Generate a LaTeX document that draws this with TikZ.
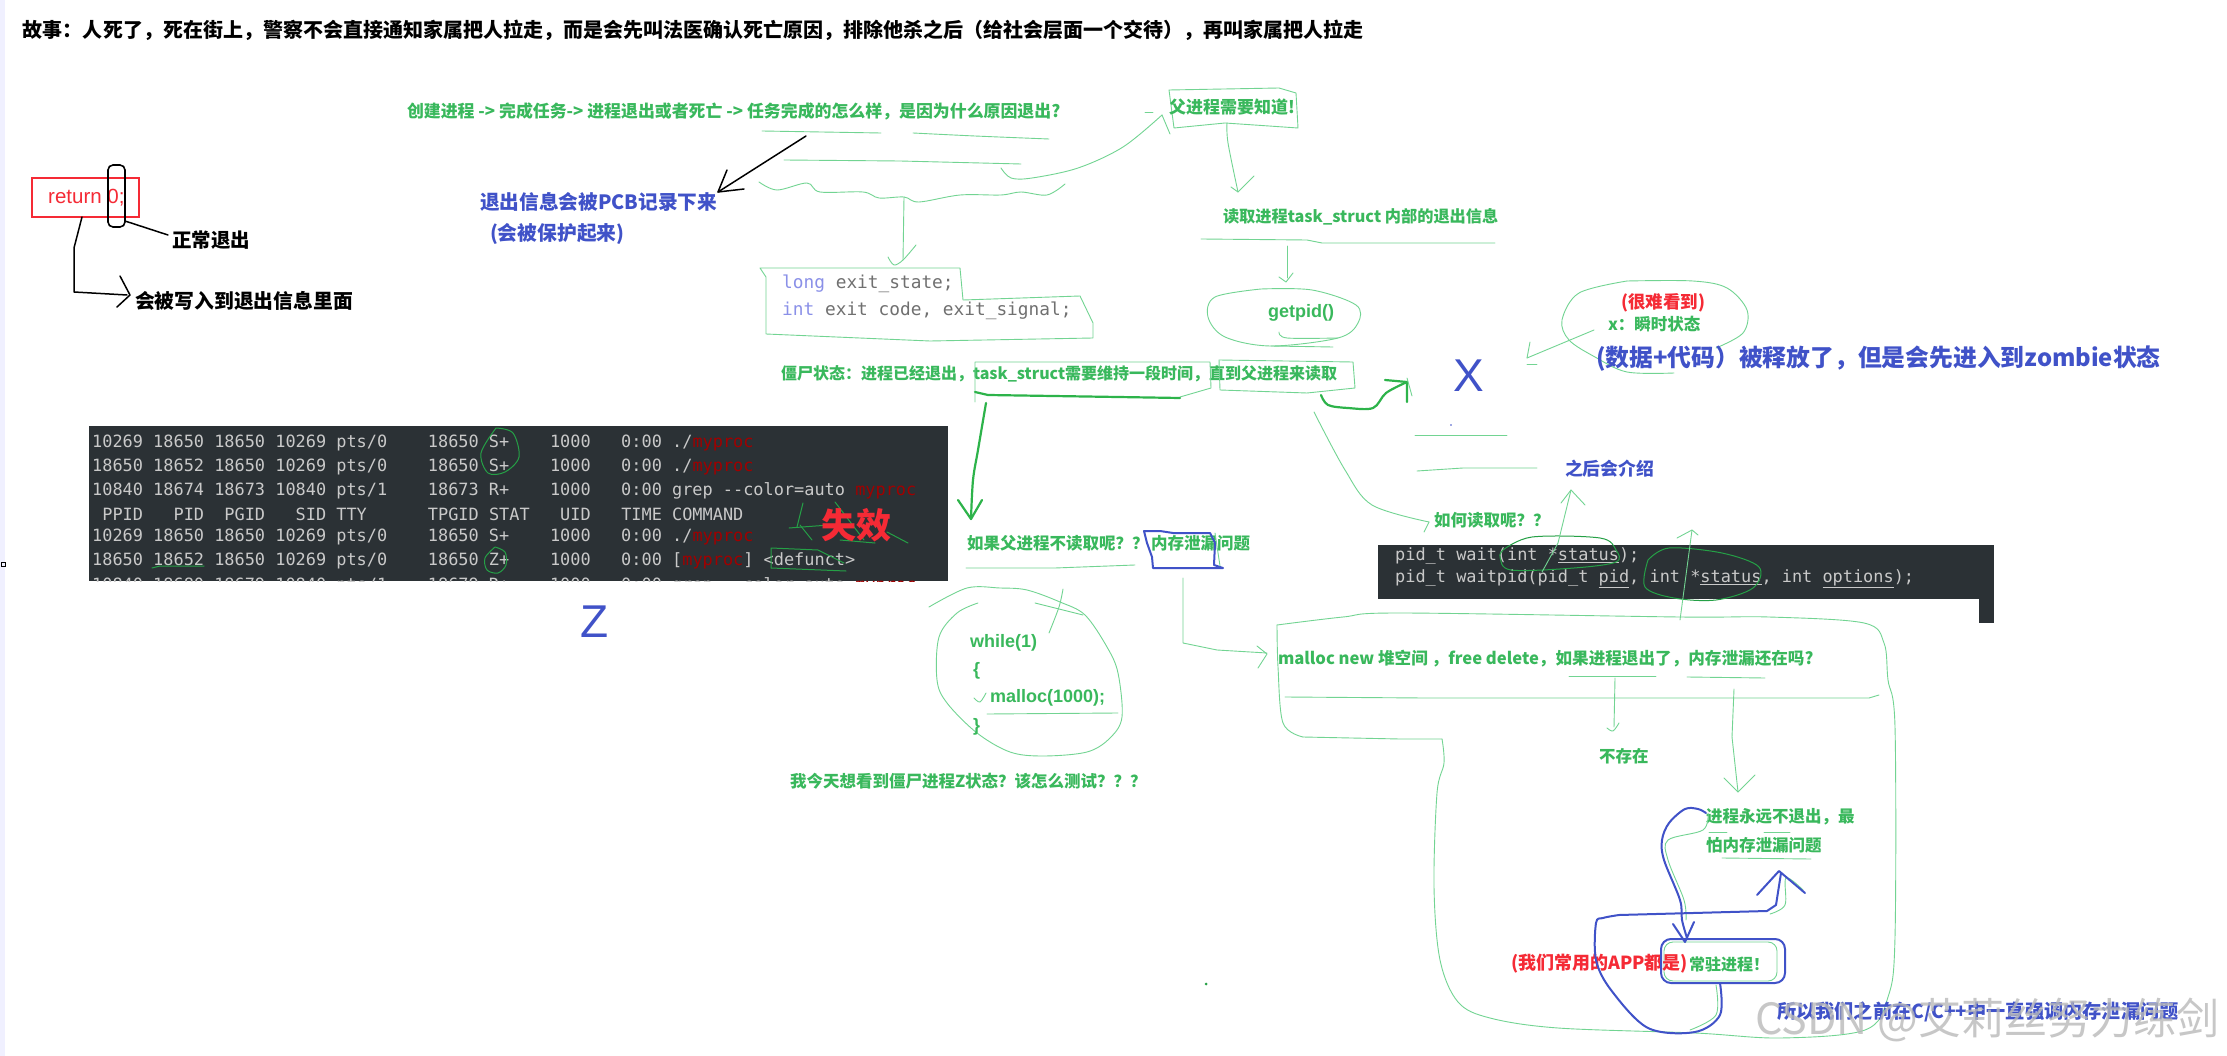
\documentclass[tikz,border=0pt]{standalone}
\usepackage{fontspec}
\setmainfont{Noto Sans CJK SC}
\newfontfamily\latinf{Liberation Sans}
\newfontfamily\termf{DejaVu Sans Mono}
\usetikzlibrary{calc}
\frenchspacing
\definecolor{gtext}{HTML}{39B85C}
\definecolor{gthin}{HTML}{72D492}
\definecolor{gdark}{HTML}{25A046}
\definecolor{gbold}{HTML}{2DB34A}
\definecolor{btext}{HTML}{4052C8}
\definecolor{redt}{HTML}{F52A35}
\definecolor{termbg}{HTML}{2B3135}
\definecolor{termfg}{HTML}{C9C9C9}
\definecolor{mpred}{HTML}{A00000}
\definecolor{kwblue}{HTML}{8A90E8}
\definecolor{codegr}{HTML}{707070}
\newcommand{\szf}[1]{\fontsize{#1}{#1}\selectfont}
\newcommand{\mpr}{\textcolor{mpred}{myproc}}
\tikzset{
  lab/.style={anchor=west,inner sep=0pt,outer sep=0pt,font=\bfseries},
  gt/.style={lab,text=gtext},
  bt/.style={lab,text=btext},
  rt/.style={lab,text=redt},
  kt/.style={lab,text=black},
  term/.style={anchor=west,inner sep=0pt,text=termfg,font=\termf\szf{16.9}},
  gl/.style={draw=gthin,line width=0.9pt,line cap=round,line join=round},
  gd/.style={draw=gdark,line width=1pt,line cap=round,line join=round},
  gk/.style={draw=gbold,line width=2.2pt,line cap=round,line join=round},
  bl/.style={draw=btext,line width=2pt,line cap=round,line join=round},
  kl/.style={draw=black,line width=1.5pt,line cap=round,line join=round},
  sm/.style={smooth,tension=0.55}
}
\begin{document}
\begin{tikzpicture}[x=1pt,y=-1pt]
\useasboundingbox (0,0) rectangle (2227,1056);
\fill[white] (0,0) rectangle (2227,1056);
\fill[blue!6] (0,0) rectangle (5,1056);
\draw[black,line width=0.5pt] (1,562) rectangle (5,566);

% header
\node[kt,font=\bfseries\szf{20}] (header) at (23,30) {故事：人死了，死在街上，警察不会直接通知家属把人拉走，而是会先叫法医确认死亡原因，排除他杀之后（给社会层面一个交待），再叫家属把人拉走};

% return 0
\draw[redt,line width=1.6pt] (32,178) rectangle (139,217);
\node[anchor=west,inner sep=0pt,text=redt,font=\latinf\szf{20.5}] (ret) at (48,198) {return 0;};
\draw[black,line width=1.6pt,rounded corners=5pt] (108,165) rectangle (125,227);
\node[kt,font=\bfseries\szf{19.5}] (normal) at (172,240) {正常退出};
\node[kt,font=\bfseries\szf{19.8}] (written) at (135,301) {会被写入到退出信息里面};
\draw[kl] (125,221) -- (168,235);
\draw[kl] (82,217) -- (74,248) -- (74,292) -- (127,295);
\draw[kl] (120,276) -- (130,295) -- (117,307);

% blue note
\node[bt,font=\bfseries\szf{19.7}] (pcb) at (480,202) {退出信息会被PCB记录下来};
\node[bt,font=\bfseries\szf{19.8}] (prot) at (490,234) {(会被保护起来)};
\draw[kl] (806,136) -- (718,192);
\draw[kl] (727,170) -- (718,192) -- (744,189);

% create line
\node[gt,font=\bfseries\szf{16.9}] (create) at (407,111) {创建进程 -> 完成任务-> 进程退出或者死亡 -> 任务完成的怎么样，是因为什么原因退出?};
\draw[gl] (762,131) -- (881,133);
\draw[gl,sm] plot coordinates {(913,133)(975,136)(1049,139)};
\draw[gl] (784,160) -- (900,161) -- (1021,164);
\draw[gl,sm] plot coordinates {(1001,168)(1011,178)(1032,178)(1078,168)(1123,147)(1162,115)};
\draw[gl] (1145,112) -- (1153,112);
\draw[gl] (1162,115) -- (1170,134);
\draw[gl] (1169,90) -- (1279,88) -- (1296,93) -- (1298,128) -- (1269,126) -- (1225,123) -- (1174,128) -- cycle;
\node[gt,font=\bfseries\szf{17}] (fu) at (1169,107) {父进程需要知道!};

% wave + code box
\draw[gl,sm] plot coordinates {(759,182)(777,190)(807,183)(820,192)(863,192)(879,198)(904,197)(919,202)(960,195)(1001,195)(1021,192)(1047,195)(1065,184)};
\draw[gl] (904,197) -- (903,260);
\draw[gl,sm] plot coordinates {(888,257)(894,265)(903,260)(916,245)};
\draw[gl] (760,268) -- (960,268) -- (963,300) -- (1080,296) -- (1093,323) -- (1093,338) -- (930,341) -- (766,334) -- (766,277) -- (760,268);
\node[anchor=west,inner sep=0pt,font=\termf\szf{17.8},text=codegr] (c1) at (782,284) {\textcolor{kwblue}{long} exit\_state;};
\node[anchor=west,inner sep=0pt,font=\termf\szf{17.8},text=codegr] (c2) at (782,311) {\textcolor{kwblue}{int} exit code, exit\_signal;};

% parent reads
\draw[gl,sm] plot coordinates {(1227,123)(1228,143)(1238,192)};
\draw[gl] (1231,187) -- (1238,192) -- (1254,176);
\node[gt,font=\bfseries\szf{16.2}] (readt) at (1223,217) {读取进程task\_struct 内部的退出信息};
\draw[gl] (1201,239) -- (1307,240) -- (1322,243) -- (1495,243);
\draw[gl] (1287,246) -- (1287,278);
\draw[gl] (1279,277) -- (1286,282) -- (1293,273);
\draw[gl,sm] plot coordinates {(1261,289)(1312,290)(1356,305)(1358,323)(1338,338)(1271,346)(1225,337)(1208,317)(1215,297)(1261,289)};
\draw[gl] (1271,346) -- (1333,347);
\draw[gl,sm] plot coordinates {(1279,332)(1287,338)(1338,338)};
\node[gt,font=\latinf\bfseries\szf{18}] (getp) at (1268,313) {getpid()};

% zombie line
\node[gt,font=\bfseries\szf{16}] (zomb) at (781,374) {僵尸状态：进程已经退出，task\_struct需要维持一段时间，直到父进程来读取};
\draw[gl] (975,402) -- (975,362) -- (1210,362) -- (1211,388) -- (1180,397);
\draw[gl] (1219,360) -- (1353,362) -- (1355,388) -- (1307,393) -- (1220,390) -- cycle;
\draw[gk] (975,392) -- (988,395) -- (1118,397) -- (1180,398);
\draw[gk,sm] plot coordinates {(1321,395)(1328,405)(1348,408)(1373,408)(1386,393)(1407,382)};
\draw[gk] (1385,380) -- (1407,382) -- (1407,402);
\draw[gl] (1407,378) -- (1412,396);
\draw[gk,sm] plot coordinates {(986,403)(978,450)(973,480)(971,519)};
\draw[gk] (958,500) -- (971,519) -- (982,500);

% how read
\draw[gl,sm] plot coordinates {(1314,412)(1345,470)(1372,505)(1429,522)};
\draw[gl] (1429,522) -- (1424,532);
\node[gt,font=\bfseries\szf{16.5}] (howr) at (1434,520) {如何读取呢？？};

% X
\node[anchor=center,inner sep=0pt,text=btext,font=\latinf\szf{46}] (X) at (1469,376) {X};
\fill[btext] (1451,425) circle (0.8);
\draw[gl] (1415,435) -- (1507,435);
\draw[gl] (1417,471) -- (1463,468) -- (1537,468);
\node[bt,font=\bfseries\szf{17.8}] (later) at (1565,469) {之后会介绍};
\draw[gl,sm] plot coordinates {(1627,281)(1693,281)(1727,288)(1747,310)(1743,333)(1716,348)};
\draw[gl,sm] plot coordinates {(1674,373)(1627,372)(1595,357)(1569,340)(1562,320)(1579,293)(1627,281)};
\node[rt,font=\bfseries\szf{17.5}] (hard) at (1621,303) {(很难看到)};
\node[gt,font=\bfseries\szf{16.5}] (xinst) at (1608,324) {x：瞬时状态};
\draw[gl] (1594,330) -- (1527,358);
\draw[gl] (1530,342) -- (1527,358);
\draw[gl] (1527,364) -- (1537,364);
\node[bt,font=\bfseries\szf{23.8}] (rel) at (1596,359) {(数据+代码）被释放了，但是会先进入到zombie状态};

% ps terminal
\fill[termbg] (89,426) rectangle (948,581);
\begin{scope}
\clip (89,426) rectangle (948,581);
\node[term] (r1) at (92,443) {10269~18650~18650~10269~pts/0~~~~18650~S+~~~~1000~~~0:00~./\mpr};
\node[term] (r2) at (92,467) {18650~18652~18650~10269~pts/0~~~~18650~S+~~~~1000~~~0:00~./\mpr};
\node[term] (r3) at (92,491) {10840~18674~18673~10840~pts/1~~~~18673~R+~~~~1000~~~0:00~grep~--color=auto~\mpr};
\node[term] (r4) at (92,514) {~PPID~~~PID~~PGID~~~SID~TTY~~~~~~TPGID~STAT~~~UID~~~TIME~COMMAND};
\node[term] (r5) at (92,537) {10269~18650~18650~10269~pts/0~~~~18650~S+~~~~1000~~~0:00~./\mpr};
\node[term] (r6) at (92,561) {18650~18652~18650~10269~pts/0~~~~18650~Z+~~~~1000~~~0:00~[\mpr]~<defunct>};
\node[term] (r7) at (92,586) {10840~18680~18679~10840~pts/1~~~~18679~R+~~~~1000~~~0:00~grep~--color=auto~\mpr};
\end{scope}
\draw[gd,sm] plot coordinates {(496,428)(513,433)(519,457)(505,472)(488,473)(481,453)(496,428)};
\draw[gd,sm] plot coordinates {(495,547)(505,552)(506,565)(498,573)(487,570)(485,558)(495,547)};
\draw[gd] (152,568) -- (160,566) -- (204,566);
\draw[gd] (771,568) -- (771,548) -- (818,550) -- (844,563);
\draw[gd] (771,568) -- (846,571);
\draw[gd] (803,503) -- (797,527);
\draw[gd] (789,528) -- (829,525);
\draw[gd] (835,502) -- (864,540);
\draw[gd] (800,525) -- (812,540);
\draw[gd] (840,540) -- (875,543);
\draw[gd] (887,532) -- (908,543);
\node[rt,font=\bfseries\szf{35}] (fail) at (821,525) {失效};
\node[anchor=center,inner sep=0pt,text=btext,font=\latinf\szf{46}] (Z) at (595,622) {Z};

% if parent doesn't read
\node[gt,font=\bfseries\szf{16.5}] (ifp) at (967,543) {如果父进程不读取呢？？};
\node[gt,font=\bfseries\szf{16.5}] (leak) at (1151,543) {内存泄漏问题};
\draw[gl] (966,568) -- (1027,568) -- (1055,568) -- (1135,565);
\draw[bl] (1144,531) -- (1160,531) -- (1173,533) -- (1210,533) -- (1215,543) -- (1214,565) -- (1223,568) -- (1153,568) -- (1152,557) -- (1147,543) -- cycle;
\draw[gl] (1215,533) -- (1220,566);
\draw[gl] (1183,578) -- (1183,643) -- (1217,650) -- (1267,653);
\draw[gl] (1257,646) -- (1267,654) -- (1258,668);

% while
\draw[gl,sm] plot coordinates {(929,607)(967,588)(1000,588)(1027,590)(1060,602)(1085,615)(1107,647)(1118,673)(1122,717)(1110,738)(1087,752)(1043,756)(1010,752)(977,733)(947,703)(937,680)(939,637)(957,613)(978,603)};
\draw[gl,sm] plot coordinates {(1063,589)(1059,607)(1049,633)};
\draw[gl] (1035,603) -- (1083,615);
\node[gt,font=\latinf\bfseries\szf{18}] (w1) at (970,643) {while(1)};
\node[gt,font=\latinf\bfseries\szf{18}] (w2) at (973,671) {\{};
\node[gt,font=\latinf\bfseries\szf{18}] (w3) at (990,698) {malloc(1000);};
\node[gt,font=\latinf\bfseries\szf{18}] (w4) at (973,727) {\}};
\draw[gl,sm] plot coordinates {(974,698)(980,702)(986,693)};
\draw[gl] (987,714) -- (1118,713);
\node[gt,font=\bfseries\szf{16.5}] (test) at (790,781) {我今天想看到僵尸进程Z状态？该怎么测试？？？};
\fill[gdark] (1206,984) circle (1.5);

% wait terminal
\fill[termbg] (1378,545) rectangle (1994,599);
\fill[termbg] (1979,599) rectangle (1994,623);
\node[term] (w5) at (1395,556) {pid\_t wait(int *\underline{status});};
\node[term] (w6) at (1395,579) {pid\_t waitpid(pid\_t \underline{pid}, int *\underline{status}, int \underline{options});};
\draw[gd,sm] plot coordinates {(1503,550)(1532,537)(1600,538)(1616,550)(1616,562)(1574,568)(1511,570)(1500,557)(1503,550)};
\draw[gd,sm] plot coordinates {(1648,560)(1669,548)(1722,553)(1759,567)(1753,588)(1716,600)(1674,598)(1645,587)(1648,560)};
\draw[gl] (1542,572) -- (1558,543) -- (1571,490);
\draw[gl] (1561,503) -- (1571,490) -- (1585,505);
\draw[gl] (1680,620) -- (1692,530);
\draw[gl] (1677,538) -- (1692,530) -- (1698,535);

% malloc region
\draw[gl,sm] plot coordinates {(1277,625)(1343,617)(1400,613)(1680,617)(1769,617)(1864,623)(1884,643)(1888,680)(1895,727)(1895,937)(1888,997)(1865,1030)(1780,1038)(1695,1033)(1558,1028)(1490,1018)(1458,1002)(1440,960)(1434,887)(1437,793)(1444,763)(1442,739)};
\draw[gl] (1442,739) -- (1400,739) -- (1303,737);
\draw[gl,sm] plot coordinates {(1303,737)(1283,723)(1278,667)(1277,625)};
\node[gt,font=\bfseries\szf{16.6}] (mal) at (1278,659) {malloc new 堆空间 ，free delete，如果进程退出了，内存泄漏还在吗?};
\draw[gl] (1285,697) -- (1425,698) -- (1869,698) -- (1879,695);
\draw[gl] (1569,676) -- (1656,676);
\draw[gl] (1687,677) -- (1765,678);
\draw[gl] (1615,678) -- (1614,727);
\draw[gl,sm] plot coordinates {(1607,728)(1613,731)(1619,723)};
\node[gt,font=\bfseries\szf{16.5}] (noex) at (1599,756) {不存在};
\draw[gl] (1734,689) -- (1732,737) -- (1738,792);
\draw[gl] (1724,778) -- (1738,792) -- (1755,775);
\node[gt,font=\bfseries\szf{16.5}] (nv1) at (1706,817) {进程永远不退出，最};
\node[gt,font=\bfseries\szf{16.5}] (nv2) at (1706,845) {怕内存泄漏问题};
\draw[gl] (1709,832) -- (1727,832);
\draw[gl] (1764,832) -- (1790,832);
\draw[gl] (1722,858) -- (1811,859);
% resident process
\draw[gl,rounded corners=9pt] (1664,942) rectangle (1777,981);
\node[gt,font=\bfseries\szf{16}] (res) at (1689,964) {常驻进程！};
\node[rt,font=\bfseries\szf{18}] (app) at (1511,964) {(我们常用的APP都是)};
\draw[bl,rounded corners=10pt] (1661,939) rectangle (1785,983);
\draw[gl,sm] plot coordinates {(1708,813)(1703,830)(1668,840)(1668,860)(1684,900)(1686,920)};
\draw[bl,sm] plot coordinates {(1706,813)(1698,809)(1685,809)(1669,823)(1662,840)(1664,860)(1680,900)(1682,920)(1687,938)};
\draw[bl] (1673,924) -- (1685,942) -- (1694,922);
\draw[gl,sm] plot coordinates {(1716,985)(1716,1015)(1690,1030)};
\draw[bl,sm] plot coordinates {(1720,983)(1720,1015)(1695,1032)(1648,1028)(1611,990)(1596,960)(1596,923)(1603,918)(1619,915)};
\draw[bl] (1619,915) -- (1767,911) -- (1776,905) -- (1781,873);
\draw[gl,sm] plot coordinates {(1770,914)(1785,905)(1786,878)(1803,890)};
\draw[bl] (1757,895) -- (1779,871) -- (1805,893);
\node[bt,font=\bfseries\szf{19.2}] (sum) at (1777,1012) {所以我们之前在C/C++中一直强调内存泄漏问题};
\node[anchor=west,inner sep=0pt,text=gray!55,opacity=0.8,font=\szf{43}] (wm) at (1755,1020) {CSDN @艾莉丝努力练剑};
\end{tikzpicture}
\end{document}
